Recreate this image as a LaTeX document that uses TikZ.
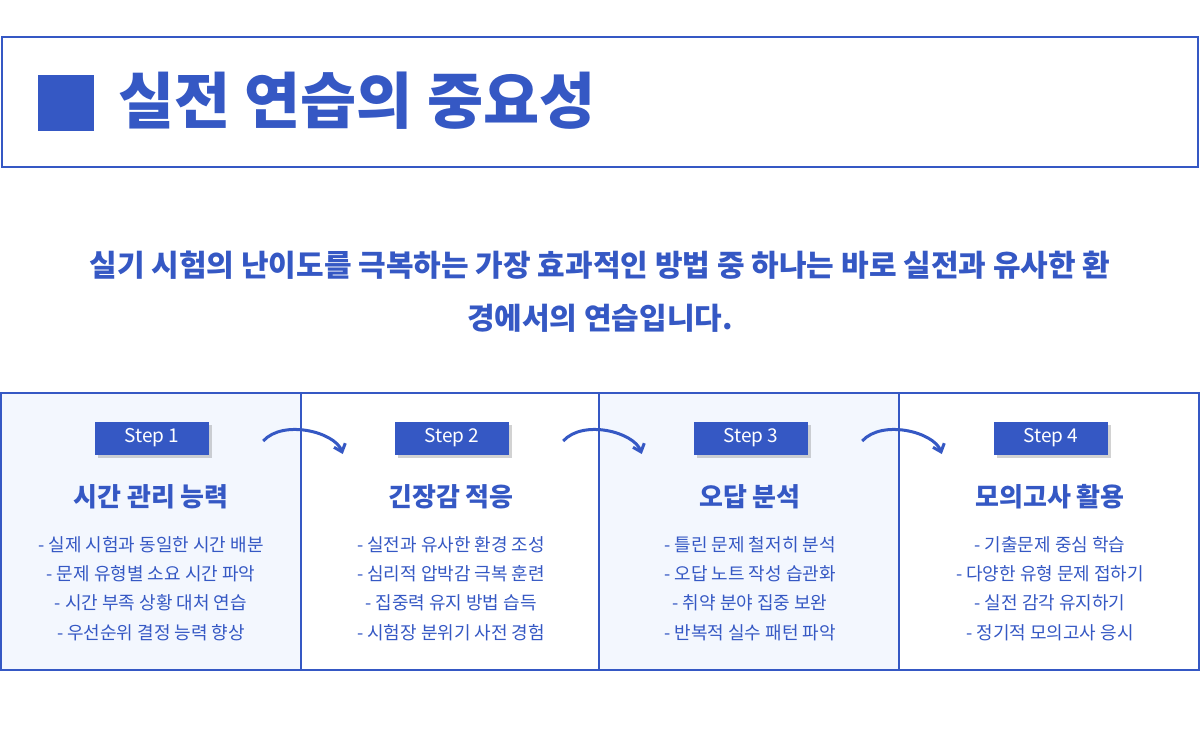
\documentclass[tikz,border=0pt]{standalone}
\usepackage{fontspec}
\setmainfont{Noto Sans CJK KR}
\usepackage{tikz}
\usetikzlibrary{arrows.meta, shadows}
\definecolor{mainblue}{HTML}{3558C4}
\definecolor{paleblue}{HTML}{F3F7FE}

\begin{document}
\begin{tikzpicture}[x=1pt,y=-1pt]
       \tikzstyle{panel} = [draw=mainblue, line width=1.5pt]
       \tikzstyle{badge} = [fill=mainblue, text=white, minimum width=114pt, minimum height=33pt, font=\fontsize{19}{19}\selectfont\itshape, drop shadow={opacity=0.35, shadow xshift=3pt, shadow yshift=-3pt}]
       \tikzstyle{heading} = [text=mainblue, font=\fontsize{26}{26}\selectfont\bfseries]
       \tikzstyle{item} = [text=mainblue, font=\fontsize{18}{18}\selectfont]
       \tikzstyle{flow} = [mainblue, line width=3pt, -{Straight Barb[length=7pt,width=12pt]}]
       \useasboundingbox (0,0) rectangle (1200,750);
       \fill[white] (0,0) rectangle (1200,750);
       % title
       \draw[panel] (2,37) rectangle (1198,167);
       \node (mark) [fill=mainblue, minimum size=56pt, inner sep=0pt] at (66,103) {};
       \node (title) [anchor=west, text=mainblue, font=\fontsize{61}{61}\selectfont\bfseries] at (115,101) {실전 연습의 중요성};
       \node (lead-1) [text=mainblue, font=\fontsize{30}{30}\selectfont\bfseries] at (600,265) {실기 시험의 난이도를 극복하는 가장 효과적인 방법 중 하나는 바로 실전과 유사한 환};
       \node (lead-2) [text=mainblue, font=\fontsize{30}{30}\selectfont\bfseries] at (600,318) {경에서의 연습입니다.};

       % steps
       \foreach \i/\x/\fillc/\head/\a/\b/\c/\d in {
         1/0/paleblue/시간 관리 능력/실제 시험과 동일한 시간 배분/문제 유형별 소요 시간 파악/시간 부족 상황 대처 연습/우선순위 결정 능력 향상,
         2/300/white/긴장감 적응/실전과 유사한 환경 조성/심리적 압박감 극복 훈련/집중력 유지 방법 습득/시험장 분위기 사전 경험,
         3/599/paleblue/오답 분석/틀린 문제 철저히 분석/오답 노트 작성 습관화/취약 분야 집중 보완/반복적 실수 패턴 파악,
         4/899/white/모의고사 활용/기출문제 중심 학습/다양한 유형 문제 접하기/실전 감각 유지하기/정기적 모의고사 응시}
       {
         \fill[\fillc] (\x+1,393) rectangle (\x+300,669);
         \node (badge-\i) [badge] at (\x+152,438) {Step \i};
         \node (head-\i) [heading] at (\x+151,497) {\head};
         \node (item-\i-a) [item] at (\x+151,545) {- \a};
         \node (item-\i-b) [item] at (\x+151,574) {- \b};
         \node (item-\i-c) [item] at (\x+151,603) {- \c};
         \node (item-\i-d) [item] at (\x+151,633) {- \d};
       }
       \draw[panel] (1,393) rectangle (1199,670);
       \foreach \x in {301,599,899}
         \draw[panel] (\x,393) -- (\x,670);

       % arrows
       \foreach \i/\j in {1/2,2/3,3/4}
       {
         \coordinate (from-\i) at ([xshift=54pt,yshift=-3pt]badge-\i.east);
         \coordinate (to-\i) at ([xshift=-52pt,yshift=-16pt]badge-\j.west);
         \draw [flow] (from-\i) .. controls ([xshift=20pt,yshift=22pt]from-\i) and ([xshift=-8pt,yshift=22pt]to-\i) .. (to-\i);
       }
\end{tikzpicture}
\end{document}
